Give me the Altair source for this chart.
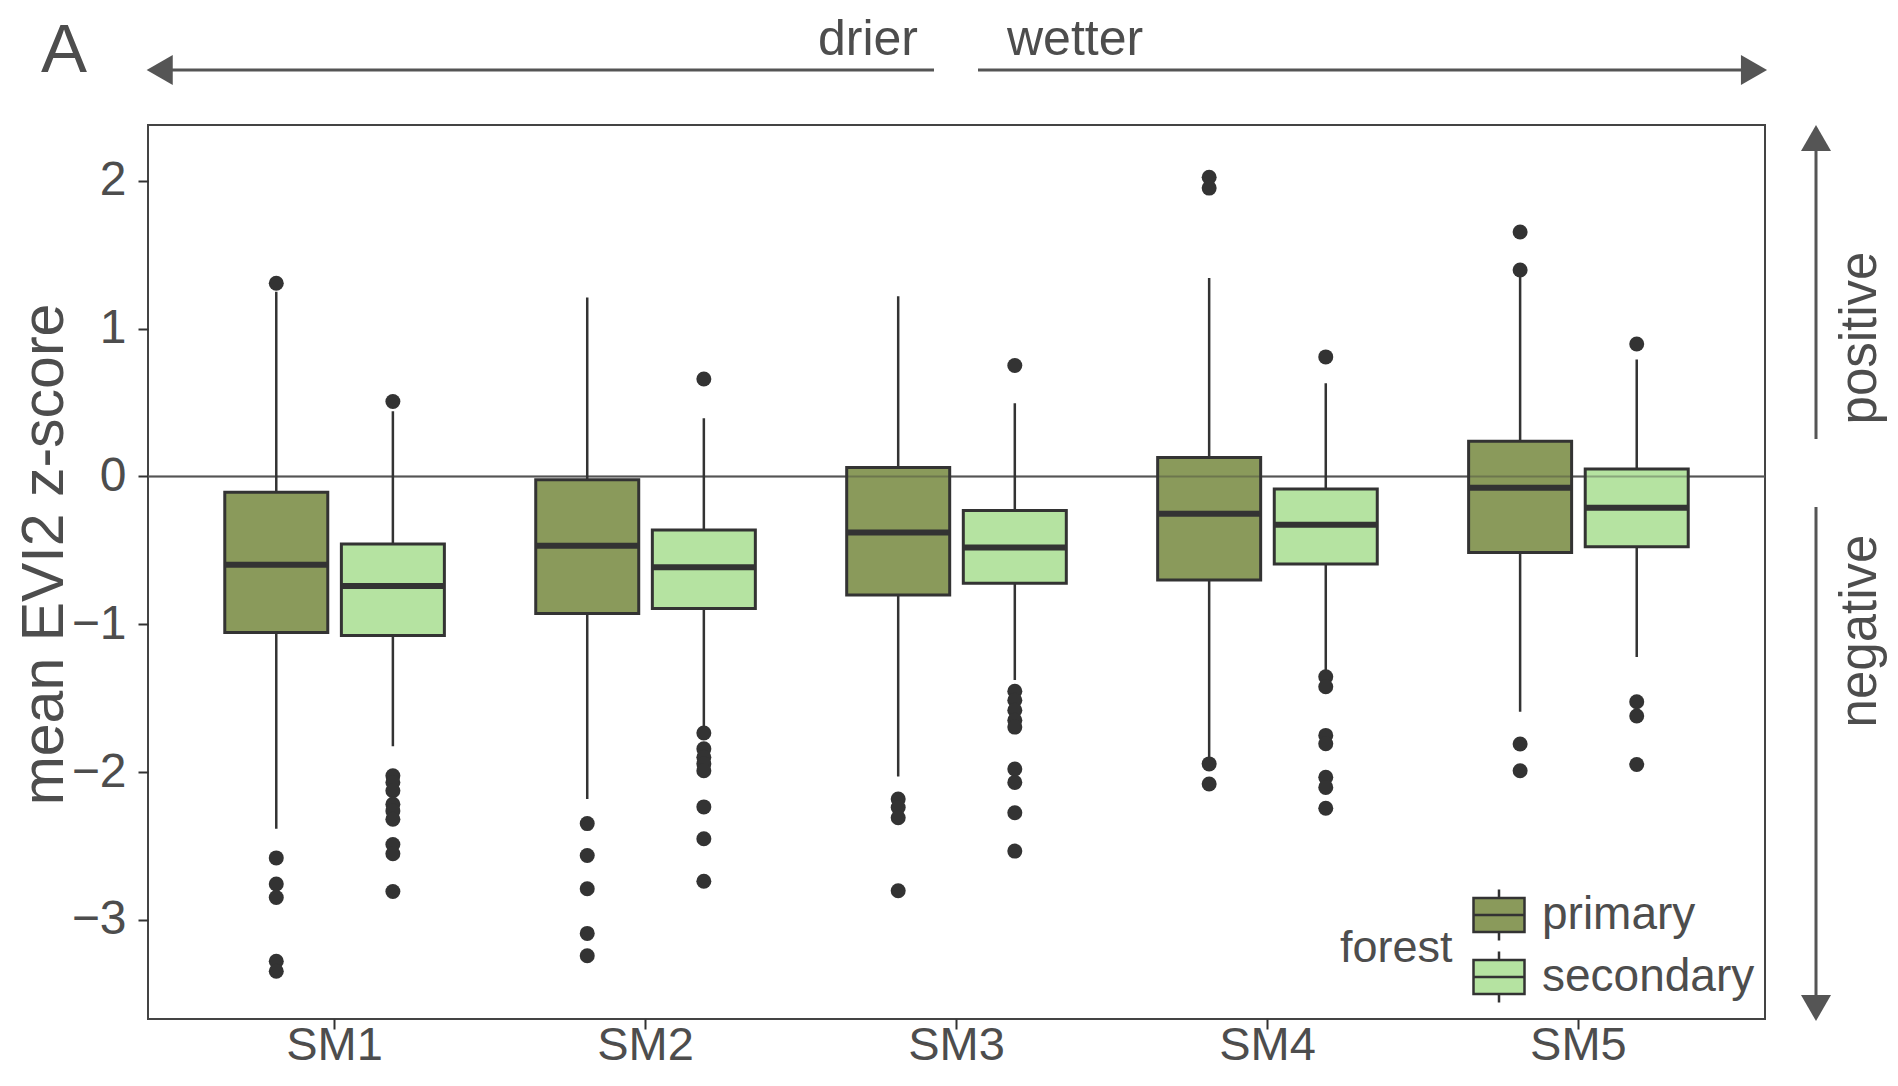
import altair as alt
import pandas as pd

# ---------------- data ----------------
categories = ["SM1", "SM2", "SM3", "SM4", "SM5"]
forest_types = ["primary", "secondary"]
fill_colors = ["#8A9A5B", "#B5E3A1"]

group_sm = ["SM1", "SM1", "SM2", "SM2", "SM3", "SM3", "SM4", "SM4", "SM5", "SM5"]
group_forest = ["primary", "secondary"] * 5

whisker_lo = [-2.384, -1.825, -2.183, -1.707, -2.031, -1.378, -1.900, -1.310, -1.592, -1.221]
q1 = [-1.056, -1.076, -0.928, -0.894, -0.802, -0.722, -0.701, -0.592, -0.514, -0.476]
median = [-0.597, -0.742, -0.469, -0.614, -0.380, -0.481, -0.252, -0.327, -0.076, -0.211]
q3 = [-0.107, -0.457, -0.022, -0.363, 0.060, -0.230, 0.128, -0.085, 0.239, 0.050]
whisker_hi = [1.250, 0.442, 1.210, 0.394, 1.220, 0.495, 1.343, 0.630, 1.360, 0.791]

outliers = [
    [1.307, -2.581, -2.758, -2.849, -3.280, -3.348],
    [0.507, -2.025, -2.070, -2.127, -2.218, -2.263, -2.319, -2.490, -2.553, -2.808],
    [-2.349, -2.565, -2.790, -3.092, -3.243],
    [0.659, -1.736, -1.843, -1.900, -1.945, -1.991, -2.236, -2.451, -2.739],
    [-2.183, -2.240, -2.309, -2.803],
    [0.751, -1.453, -1.514, -1.582, -1.650, -1.696, -1.979, -2.070, -2.275, -2.535],
    [2.024, 1.951, -1.945, -2.081],
    [0.809, -1.355, -1.423, -1.752, -1.809, -2.036, -2.104, -2.245],
    [1.654, 1.397, -1.810, -1.991],
    [0.896, -1.524, -1.621, -1.949],
]

y_ticks = [-3, -2, -1, 0, 1, 2]
y_domain = [-3.671, 2.378]

# ---------------- tables ----------------
df_box = pd.DataFrame({
    "sm": group_sm, "forest": group_forest,
    "lo": whisker_lo, "q1": q1, "med": median, "q3": q3, "hi": whisker_hi,
})
rows = []
for s, f, vals in zip(group_sm, group_forest, outliers):
    for v in vals:
        rows.append({"sm": s, "forest": f, "v": v})
df_out = pd.DataFrame(rows)
dummy = pd.DataFrame({"k": [0]})

FONT = "Liberation Sans"
TXT = "#4D4D4D"
DARK = "#333333"
ARROW = "#555555"

x_enc = alt.X(
    "sm:N",
    scale=alt.Scale(domain=categories, paddingInner=0.25, paddingOuter=0.225),
    axis=alt.Axis(title=None, labelAngle=0, labelFontSize=47, labelColor=TXT,
                  labelFont=FONT, labelBaseline="alphabetic", labelPadding=30,
                  tickSize=10, tickWidth=2, tickColor=DARK, domain=False, grid=False),
)
xo_enc = alt.XOffset("forest:N", scale=alt.Scale(domain=forest_types, paddingInner=0, paddingOuter=0))
y_scale = alt.Scale(domain=y_domain, nice=False, zero=False)
y_axis = alt.Axis(values=y_ticks, format="d", title="mean EVI2 z-score",
                  titleX=-86, titleY=429, titleAngle=270, titleAlign="center",
                  titleBaseline="alphabetic", titleFontSize=59, titleFontWeight="normal",
                  titleColor=TXT, titleFont=FONT,
                  labelFontSize=48, labelColor=TXT, labelFont=FONT, labelPadding=12,
                  tickSize=10, tickWidth=2, tickColor=DARK, domain=False, grid=False)

base_box = alt.Chart(df_box)

zero_under = alt.Chart(dummy).mark_rule(color="#666666", strokeWidth=2).encode(
    y=alt.datum(0, type="quantitative", scale=y_scale, axis=y_axis))

whiskers = base_box.mark_rule(color=DARK, strokeWidth=2.5).encode(
    x=x_enc, xOffset=xo_enc,
    y=alt.Y("lo:Q", scale=y_scale, axis=y_axis), y2="hi:Q")

legend_symbol = "M-1,-0.667L1,-0.667L1,0.667L-1,0.667Z M-1,0L1,0 M0,-0.667L0,-1 M0,0.667L0,1"

boxes = base_box.mark_bar(stroke=DARK, strokeWidth=3, width=103, opacity=1).encode(
    x=x_enc, xOffset=xo_enc,
    y=alt.Y("q1:Q", scale=y_scale, axis=y_axis), y2="q3:Q",
    fill=alt.Fill("forest:N", scale=alt.Scale(domain=forest_types, range=fill_colors),
                  legend=alt.Legend(orient="none", legendX=1192, legendY=763,
                                    title="forest", titleOrient="left", titleFontSize=45,
                                    titleFontWeight="normal", titleColor=TXT, titleFont=FONT,
                                    titlePadding=19, titleAnchor="middle", titleBaseline="middle",
                                    labelFontSize=46, labelColor=TXT, labelFont=FONT,
                                    labelOffset=16, labelLimit=0,
                                    symbolType=legend_symbol, symbolSize=2601,
                                    symbolStrokeColor=DARK, symbolStrokeWidth=2.5,
                                    symbolOpacity=1, rowPadding=0, padding=0)),
)

zero_over = alt.Chart(dummy).mark_rule(color="#333333", strokeWidth=2, opacity=0.35).encode(
    y=alt.datum(0, type="quantitative", scale=y_scale, axis=y_axis))

medians = base_box.mark_tick(color=DARK, thickness=6, size=103, opacity=1).encode(
    x=x_enc, xOffset=xo_enc, y=alt.Y("med:Q", scale=y_scale, axis=y_axis))

points = alt.Chart(df_out).mark_circle(size=225, color=DARK, opacity=1).encode(
    x=x_enc, xOffset=xo_enc, y=alt.Y("v:Q", scale=y_scale, axis=y_axis))

# ---------------- annotations (outside the panel) ----------------
ann = alt.Chart(dummy)

def txt(text, x, y, size, align="left", angle=0):
    return ann.mark_text(text=text, font=FONT, fontSize=size, color=TXT, align=align,
                         baseline="alphabetic", angle=angle).encode(
        x=alt.value(x), y=alt.value(y))

def hrule(x1, x2, y):
    return ann.mark_rule(color=ARROW, strokeWidth=3).encode(
        x=alt.value(x1), x2=alt.value(x2), y=alt.value(y))

def vrule(x, y1, y2):
    return ann.mark_rule(color=ARROW, strokeWidth=3).encode(
        x=alt.value(x), y=alt.value(y1), y2=alt.value(y2))

def head(shape, x, y):
    return ann.mark_point(shape=shape, filled=True, size=900, color=ARROW, opacity=1,
                          strokeWidth=0).encode(x=alt.value(x), y=alt.value(y))

LEFT = "M-0.87,0L0.87,-1L0.87,1Z"
RIGHT = "M0.87,0L-0.87,-1L-0.87,1Z"
UP = "M0,-0.87L-1,0.87L1,0.87Z"
DOWN = "M0,0.87L-1,-0.87L1,-0.87Z"

annotations = [
    txt("A", -107, -53, 69),
    txt("drier", 770, -70, 50, align="right"),
    txt("wetter", 859, -70, 50, align="left"),
    hrule(5, 786, -55), head(LEFT, 11.7, -55),
    hrule(830, 1613, -55), head(RIGHT, 1606, -55),
    vrule(1668, 8, 314), head(UP, 1668, 13),
    vrule(1668, 382, 888), head(DOWN, 1668, 883),
    txt("positive", 1728, 213, 51, align="center", angle=270),
    txt("negative", 1728, 506, 51, align="center", angle=270),
]

chart = alt.layer(zero_under, whiskers, boxes, zero_over, medians, points, *annotations).properties(
    width=1617, height=894,
    autosize=alt.AutoSizeParams(type="none"),
    padding={"left": 140, "top": 117, "right": 125, "bottom": 53},
    background="white",
).configure(
    font=FONT,
    view=alt.ViewConfig(stroke="#444444", strokeWidth=2),
)

chart.save("out.html", embed_options={"renderer": "svg", "actions": False})
